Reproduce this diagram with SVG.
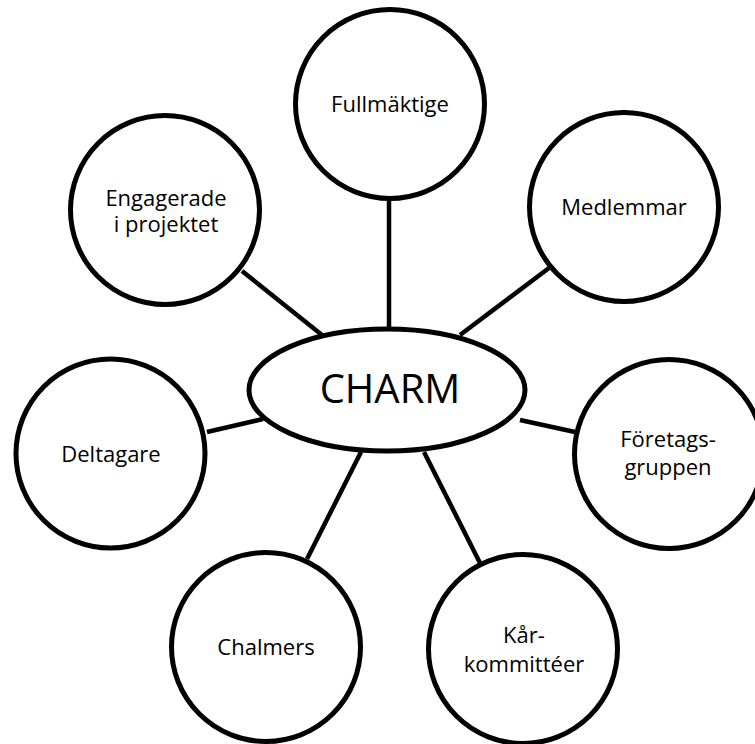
<svg xmlns="http://www.w3.org/2000/svg" width="755" height="744" viewBox="0 0 755 744">
<style>
.node{fill:#fff;stroke:#000;stroke-width:5}
.conn line{stroke:#000;stroke-width:4.5;stroke-linecap:butt}
text{font-family:"Open Sans","Noto Sans","DejaVu Sans",sans-serif;fill:#000;text-anchor:middle}
.lbl{font-size:22px}
.main{font-size:40px}
</style>
<rect width="755" height="744" fill="#fff"/>
<g id="connectors" class="conn">
<line x1="389" y1="199" x2="389" y2="331"/>
<line x1="549" y1="268" x2="460" y2="335"/>
<line x1="242" y1="271" x2="322" y2="335"/>
<line x1="207" y1="432" x2="263" y2="419"/>
<line x1="575" y1="432" x2="520" y2="420"/>
<line x1="307" y1="559" x2="361" y2="452"/>
<line x1="480" y1="563" x2="424" y2="452"/>
</g>
<g id="fullmaktige">
<circle class="node" cx="390" cy="104" r="94.5"/>
<text class="lbl" x="390" y="112">Fullmäktige</text>
</g>
<g id="medlemmar">
<circle class="node" cx="624" cy="207" r="94.5"/>
<text class="lbl" x="624" y="215">Medlemmar</text>
</g>
<g id="engagerade">
<circle class="node" cx="165" cy="210" r="94.5"/>
<text class="lbl" x="166" y="206">Engagerade</text>
<text class="lbl" x="166" y="232">i projektet</text>
</g>
<g id="deltagare">
<circle class="node" cx="110.5" cy="453.5" r="94.5"/>
<text class="lbl" x="111" y="462">Deltagare</text>
</g>
<g id="foretagsgruppen">
<circle class="node" cx="669" cy="454" r="94.5"/>
<text class="lbl" x="668" y="447">Företags-</text>
<text class="lbl" x="668" y="475">gruppen</text>
</g>
<g id="chalmers">
<circle class="node" cx="266" cy="647" r="94.5"/>
<text class="lbl" x="266" y="655">Chalmers</text>
</g>
<g id="karkommitteer">
<circle class="node" cx="523" cy="649" r="94.5"/>
<text class="lbl" x="524" y="643">Kår-</text>
<text class="lbl" x="524" y="672">kommittéer</text>
</g>
<g id="charm">
<ellipse class="node" cx="387" cy="390" rx="138" ry="61"/>
<text class="main" x="390" y="403">CHARM</text>
</g>
</svg>
